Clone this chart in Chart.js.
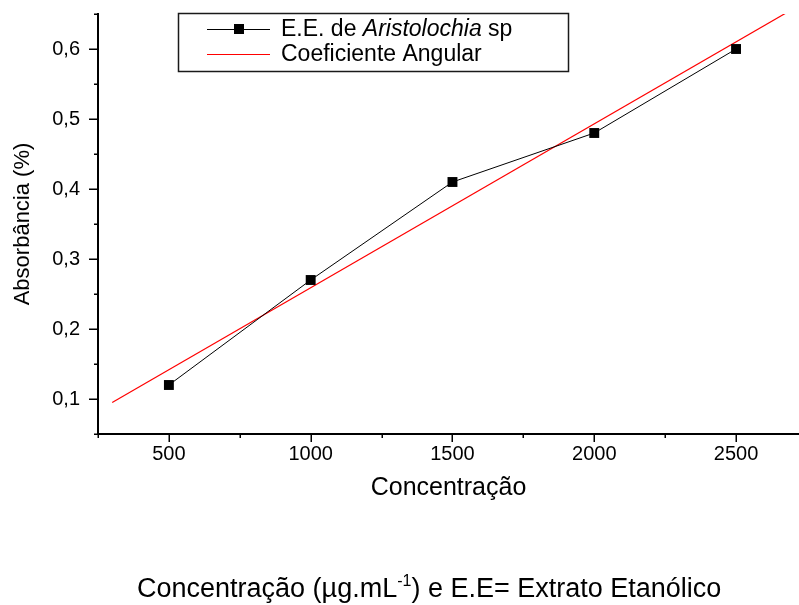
<!DOCTYPE html>
<html>
<head>
<meta charset="utf-8">
<script src="https://cdn.jsdelivr.net/npm/chart.js@4/dist/chart.umd.min.js"></script>
<style>
  html, body { margin: 0; padding: 0; background: #fff; }
  #wrap { position: relative; width: 799px; height: 605px; overflow: hidden; }
  #grafico { position: absolute; left: 0; top: 0; }
  #legenda {
    position: absolute; left: 137px; top: 572px; margin: 0;
    font-family: "Liberation Sans", Arial, sans-serif; font-size: 27px;
    color: #000; white-space: nowrap; line-height: 32px;
  }
  #legenda .sup { font-size: 16px; position: relative; top: -11px; }
</style>
</head>
<body>
<div id="wrap">
  <canvas id="grafico" width="799" height="605"></canvas>
  <p id="legenda">Concentração (µg.mL<span class="sup">-1</span>) e E.E= Extrato Etanólico</p>
</div>
<script>
// Absorbância do extrato etanólico em função da concentração
const concentracao = [500, 1000, 1500, 2000, 2500];
const absorbancia  = [0.12, 0.27, 0.41, 0.48, 0.60];

// Reta do coeficiente angular (extremos)
const retaX = [300, 2700];
const retaY = [0.095, 0.657];

// Marcas dos eixos
const xTickValores = [250, 500, 750, 1000, 1250, 1500, 1750, 2000, 2250, 2500];
const xTickRotulos = ['500', '1000', '1500', '2000', '2500'];
const yTickValores = [0.05, 0.10, 0.15, 0.20, 0.25, 0.30, 0.35, 0.40, 0.45, 0.50, 0.55, 0.60, 0.65];
const yTickRotulos = ['0,1', '0,2', '0,3', '0,4', '0,5', '0,6'];

const FONTE = '"Liberation Sans", Arial, sans-serif';

const rotuloX = v => {
  const s = String(Math.round(v));
  return xTickRotulos.includes(s) ? s : '';
};
const rotuloY = v => {
  const s = (Math.round(v * 100) / 100).toFixed(2);
  const t = s.endsWith('0') ? s.slice(0, -1).replace('.', ',') : '';
  return yTickRotulos.includes(t) ? t : '';
};

// Sem folga extra em volta da área do gráfico
const semFolga = s => {
  s.paddingTop = 0; s.paddingBottom = 0;
  s.paddingLeft = 0; s.paddingRight = 0;
};

// Traços maiores e menores dos eixos
const tracosEixos = {
  id: 'tracosEixos',
  afterDraw(chart) {
    const { ctx, chartArea } = chart;
    const sx = chart.scales.x, sy = chart.scales.y;
    ctx.save();
    ctx.strokeStyle = '#000';
    ctx.lineWidth = 1.5;
    ctx.beginPath();
    xTickValores.forEach(v => {
      const px = Math.round(sx.getPixelForValue(v)) + 0.25;
      const len = rotuloX(v) ? 8 : 4;
      ctx.moveTo(px, chartArea.bottom);
      ctx.lineTo(px, chartArea.bottom + len);
    });
    yTickValores.forEach(v => {
      const py = Math.round(sy.getPixelForValue(v)) + 0.25;
      const len = rotuloY(v) ? 9 : 4;
      ctx.moveTo(chartArea.left, py);
      ctx.lineTo(chartArea.left - len, py);
    });
    ctx.stroke();
    ctx.restore();
  }
};

// Quadro de legenda com o nome da espécie em itálico
const quadroLegenda = {
  id: 'quadroLegenda',
  afterDraw(chart) {
    const ctx = chart.ctx;
    ctx.save();
    ctx.strokeStyle = '#1a1a1a';
    ctx.lineWidth = 1.5;
    ctx.strokeRect(178.5, 13.5, 390, 58);

    // linha 1: série experimental
    ctx.strokeStyle = '#000';
    ctx.lineWidth = 1;
    ctx.beginPath();
    ctx.moveTo(207, 29.5); ctx.lineTo(270, 29.5);
    ctx.stroke();
    ctx.fillStyle = '#000';
    ctx.fillRect(234, 24, 10, 10);

    // linha 2: reta ajustada
    ctx.strokeStyle = '#ff0000';
    ctx.beginPath();
    ctx.moveTo(207, 54.5); ctx.lineTo(270, 54.5);
    ctx.stroke();

    ctx.fillStyle = '#000';
    ctx.textBaseline = 'middle';
    ctx.textAlign = 'left';
    let x = 281;
    const partes = [['E.E. de ', 'normal'], ['Aristolochia', 'italic'], [' sp', 'normal']];
    partes.forEach(([txt, estilo]) => {
      ctx.font = estilo + ' 23px ' + FONTE;
      ctx.fillText(txt, x, 30);
      x += ctx.measureText(txt).width;
    });
    ctx.font = 'normal 23px ' + FONTE;
    ctx.fillText('Coeficiente Angular', 281, 55);
    ctx.restore();
  }
};

const pontos = concentracao.map((c, i) => ({ x: c, y: absorbancia[i] }));
const reta = retaX.map((c, i) => ({ x: c, y: retaY[i] }));

new Chart(document.getElementById('grafico'), {
  type: 'scatter',
  data: {
    datasets: [
      {
        label: 'Coeficiente Angular',
        data: reta,
        showLine: true,
        borderColor: '#ff0000',
        borderWidth: 1.2,
        pointRadius: 0,
        order: 2
      },
      {
        label: 'E.E. de Aristolochia sp',
        data: pontos,
        showLine: true,
        borderColor: '#000',
        borderWidth: 1,
        pointStyle: 'rect',
        pointRadius: 7,
        pointBackgroundColor: '#000',
        pointBorderWidth: 0,
        order: 1
      }
    ]
  },
  options: {
    responsive: false,
    animation: false,
    layout: { autoPadding: false, padding: { top: 14, right: 0, left: 0, bottom: 91 } },
    plugins: { legend: { display: false }, tooltip: { enabled: false } },
    scales: {
      x: {
        type: 'linear',
        min: 250,
        max: 2722,
        afterBuildTicks: s => { s.ticks = xTickValores.map(v => ({ value: v })); },
        afterFit: s => { s.height = 80; semFolga(s); },
        grid: { display: false, drawTicks: false },
        border: { display: true, color: '#000', width: 2 },
        ticks: {
          autoSkip: false, maxRotation: 0, padding: 8,
          color: '#000', font: { family: FONTE, size: 20 },
          callback: v => rotuloX(v)
        },
        title: {
          display: true, text: 'Concentração', color: '#000',
          font: { family: FONTE, size: 25 }, padding: { top: 0, bottom: 11 }
        }
      },
      y: {
        type: 'linear',
        min: 0.05,
        max: 0.65,
        afterBuildTicks: s => { s.ticks = yTickValores.map(v => ({ value: v })); },
        afterFit: s => { s.width = 98; semFolga(s); },
        grid: { display: false, drawTicks: false },
        border: { display: true, color: '#000', width: 2 },
        ticks: {
          autoSkip: false, padding: 18,
          color: '#000', font: { family: FONTE, size: 20 },
          callback: v => rotuloY(v)
        },
        title: {
          display: true, text: 'Absorbância (%)', color: '#000',
          font: { family: FONTE, size: 22 }, padding: { top: 10, bottom: 0 }
        }
      }
    }
  },
  plugins: [tracosEixos, quadroLegenda]
});
</script>
</body>
</html>
